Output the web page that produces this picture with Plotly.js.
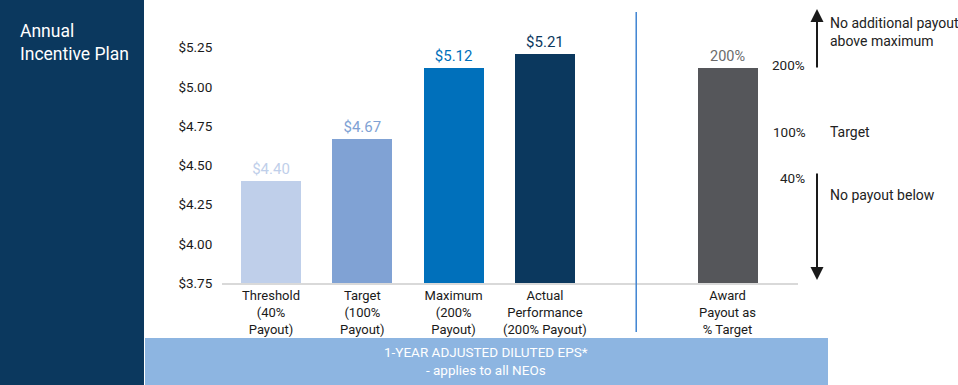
<!DOCTYPE html>
<html><head><meta charset="utf-8">
<script src="https://cdn.plot.ly/plotly-3.0.1.min.js"></script>
<style>html,body{margin:0;padding:0;background:#fff}#chart{width:958px;height:385px}</style>
</head><body><div id="chart"></div>
<script>
// ---- data ----
const categories = ["Threshold<br>(40%<br>Payout)", "Target<br>(100%<br>Payout)", "Maximum<br>(200%<br>Payout)", "Actual<br>Performance<br>(200% Payout)"];
const epsValues = [4.40, 4.67, 5.12, 5.21];
const epsLabels = ["$4.40", "$4.67", "$5.12", "$5.21"];
const awardCategory = ["Award<br>Payout as<br>% Target"];
const awardValues = [200];
const awardLabels = ["200%"];
const payoutLevels = ["200%", "100%", "40%"];
const payoutNotes = ["No additional payout<br>above maximum", "Target", "No payout below"];
const yTickVals = [3.75, 4.00, 4.25, 4.50, 4.75, 5.00, 5.25];
const yTickText = ["$3.75", "$4.00", "$4.25", "$4.50", "$4.75", "$5.00", "$5.25"];
const panelTitle = "Annual<br>Incentive Plan";
const bandTitle = "1-YEAR ADJUSTED DILUTED EPS*<br>- applies to all NEOs";

// ---- styles ----
const barColors = ["#bfcfea", "#80a2d4", "#0070bb", "#0b385e"];
const FONT = "Roboto, 'Noto Sans', Arial, sans-serif";
const W = 958, H = 385;
const M = {l: 222, r: 160, t: 10, b: 102};
const PW = W - M.l - M.r, PH = H - M.t - M.b;
const px = x => (x - M.l) / PW;
const py = y => (H - M.b - y) / PH;
const yMin = 3.75, yMax = 5.49;
const awardPos = categories.length + 1;
const dividerPos = categories.length;

const mainX = categories.map((_, i) => i);
const traces = [
  {type: 'bar', x: mainX, y: epsValues, width: 0.657,
   marker: {color: barColors}, text: epsLabels, textposition: 'outside',
   textfont: {family: FONT, size: 15, color: barColors}, cliponaxis: false,
   hoverinfo: 'skip', showlegend: false},
  {type: 'bar', x: [awardPos], y: awardValues, yaxis: 'y2', width: 0.657,
   marker: {color: '#55565a'}, text: awardLabels, textposition: 'outside',
   textfont: {family: FONT, size: 14.5, color: '#6b6b6b'}, cliponaxis: false,
   hoverinfo: 'skip', showlegend: false}
];

// award axis scaled so 200% sits at the Maximum EPS level
const y2Max = awardValues[0] * (yMax - yMin) / (epsValues[2] - yMin);

const shapes = [
  {type: 'rect', xref: 'paper', yref: 'paper', x0: px(0), x1: px(144), y0: py(H), y1: py(0),
   fillcolor: '#0b385e', line: {width: 0}, layer: 'below'},
  {type: 'rect', xref: 'paper', yref: 'paper', x0: px(145), x1: px(828), y0: py(H), y1: py(338),
   fillcolor: '#8db5e1', line: {width: 0}, layer: 'below'},
  {type: 'line', xref: 'x', yref: 'paper', x0: dividerPos, x1: dividerPos, y0: py(332), y1: py(12),
   line: {color: '#3f84d2', width: 1.5}}
];

const txt = (c, s) => ({family: FONT, size: s, color: c});
const annotations = [
  {xref: 'paper', yref: 'paper', x: px(18), y: py(42), xanchor: 'left', yanchor: 'middle', align: 'left',
   text: panelTitle, showarrow: false, font: txt('#ffffff', 17.5)},
  {xref: 'paper', yref: 'paper', x: px(486), y: py(361), xanchor: 'center', yanchor: 'middle', align: 'center',
   text: bandTitle, showarrow: false, font: txt('#ffffff', 13.5)},
  // payout level labels
  {xref: 'paper', yref: 'paper', x: px(807), y: py(65), xanchor: 'right', yanchor: 'middle', text: payoutLevels[0], showarrow: false, font: txt('#222', 13.5)},
  {xref: 'paper', yref: 'paper', x: px(808), y: py(132), xanchor: 'right', yanchor: 'middle', text: payoutLevels[1], showarrow: false, font: txt('#222', 13.5)},
  {xref: 'paper', yref: 'paper', x: px(807), y: py(178), xanchor: 'right', yanchor: 'middle', text: payoutLevels[2], showarrow: false, font: txt('#222', 13.5)},
  // notes
  {xref: 'paper', yref: 'paper', x: px(828), y: py(32), xanchor: 'left', yanchor: 'middle', align: 'left', text: payoutNotes[0], showarrow: false, font: txt('#222', 14)},
  {xref: 'paper', yref: 'paper', x: px(828), y: py(132), xanchor: 'left', yanchor: 'middle', align: 'left', text: payoutNotes[1], showarrow: false, font: txt('#222', 14)},
  {xref: 'paper', yref: 'paper', x: px(828), y: py(195), xanchor: 'left', yanchor: 'middle', align: 'left', text: payoutNotes[2], showarrow: false, font: txt('#222', 14)},
  // arrows
  {xref: 'paper', yref: 'paper', x: px(817), y: py(9), ax: 0, ay: 60, text: '', showarrow: true,
   arrowhead: 2, arrowsize: 1.3, arrowwidth: 2, arrowcolor: '#1a1a1a'},
  {xref: 'paper', yref: 'paper', x: px(817), y: py(280), ax: 0, ay: -108, text: '', showarrow: true,
   arrowhead: 2, arrowsize: 1.3, arrowwidth: 2, arrowcolor: '#1a1a1a'}
];

const layout = {
  width: W, height: H, margin: M,
  paper_bgcolor: '#ffffff', plot_bgcolor: '#ffffff',
  font: {family: FONT},
  barmode: 'overlay', bargap: 0,
  showlegend: false,
  xaxis: {range: [-0.537, 5.772], tickvals: [...mainX, awardPos], ticktext: [...categories, ...awardCategory],
          showgrid: false, zeroline: false, showline: true, linecolor: '#d9d9d9', linewidth: 1.5,
          ticks: '', tickfont: txt('#1a1a1a', 13), fixedrange: true},
  yaxis: {range: [yMin, yMax], tickvals: yTickVals, ticktext: yTickText, showgrid: false, zeroline: false,
          showline: false, ticks: 'outside', ticklen: 6, tickcolor: 'rgba(0,0,0,0)',
          tickfont: txt('#1a1a1a', 13.5), fixedrange: true},
  yaxis2: {overlaying: 'y', range: [0, y2Max], visible: false, fixedrange: true},
  shapes: shapes, annotations: annotations
};

Plotly.newPlot('chart', traces, layout, {displayModeBar: false, staticPlot: true});
</script>
</body></html>
